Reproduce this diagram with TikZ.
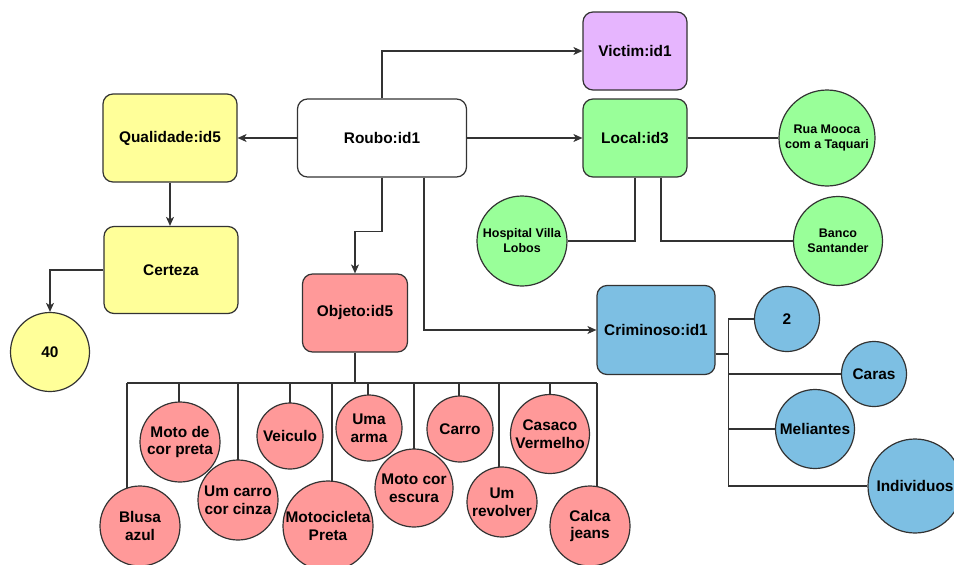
\documentclass[tikz,border=0pt]{standalone}
\usepackage{fontspec}
\setmainfont{Liberation Sans}
\usetikzlibrary{arrows.meta,backgrounds}

\definecolor{linec}{HTML}{333333}
\definecolor{fyellow}{HTML}{FFFF99}
\definecolor{fgreen}{HTML}{99FF99}
\definecolor{fred}{HTML}{FF9999}
\definecolor{fblue}{HTML}{7DBFE3}
\definecolor{fpurple}{HTML}{E6B5FE}

\tikzset{
  lbl/.style={font=\bfseries\fontsize{15.4}{17.6}\selectfont, align=center, text=black},
  lblsmall/.style={font=\bfseries\fontsize{12.5}{15}\selectfont, align=center, text=black},
  box/.style={lbl, draw=linec, line width=1.2pt, rounded corners=10pt, inner sep=0pt},
  ent/.style={lbl, circle, draw=linec, line width=1.2pt, inner sep=0pt},
  conn/.style={draw=linec, line width=1.2pt},
  arr/.style={conn, -{Stealth[length=9pt,width=8pt,inset=2.5pt]}}
}

\begin{document}
\begin{tikzpicture}[x=1pt,y=-1pt]
\useasboundingbox (0,0) rectangle (954,565);

% main entities
\node[box, fill=white, minimum width=169pt, minimum height=78pt] (roubo) at (382,138) {Roubo:id1};
\node[box, fill=fpurple, minimum width=104pt, minimum height=78pt] (victim) at (635,51) {Victim:id1};
\node[box, fill=fgreen, minimum width=104pt, minimum height=78pt] (local) at (635,138) {Local:id3};
\node[box, fill=fyellow, minimum width=134pt, minimum height=88pt] (qual) at (170,138) {Qualidade:id5};
\node[box, fill=fyellow, minimum width=134pt, minimum height=87pt] (certeza) at (171,270) {Certeza};
\node[box, fill=fred, minimum width=105pt, minimum height=78pt] (objeto) at (355,313) {Objeto:id5};
\node[box, fill=fblue, minimum width=118pt, minimum height=89pt] (crim) at (656,330) {Criminoso:id1};

% value of Certeza
\node[ent, fill=fyellow, minimum size=79pt] (n40) at (50,352) {40};

% places
\node[ent, lblsmall, fill=fgreen, minimum size=96pt] (rua) at (827,138) {Rua Mooca\\com a Taquari};
\node[ent, lblsmall, fill=fgreen, minimum size=90pt] (hosp) at (522,241) {Hospital Villa\\Lobos};
\node[ent, lblsmall, fill=fgreen, minimum size=89pt] (banco) at (838,241) {Banco\\Santander};

% criminal descriptions
\node[ent, fill=fblue, minimum size=65pt] (c2) at (787,319) {2};
\node[ent, fill=fblue, minimum size=65pt] (caras) at (874,374) {Caras};
\node[ent, fill=fblue, minimum size=79pt] (meli) at (815,429) {Meliantes};
\node[ent, fill=fblue, minimum size=94pt] (indiv) at (915,486) {Individuos};

% objects
\node[ent, fill=fred, minimum size=80pt] (blusa) at (140,526) {Blusa\\azul};
\node[ent, fill=fred, minimum size=80pt] (motopreta) at (180,442) {Moto de\\cor preta};
\node[ent, fill=fred, minimum size=80pt] (carrocinza) at (238,500) {Um carro\\cor cinza};
\node[ent, fill=fred, minimum size=66pt] (veiculo) at (290,436) {Veiculo};
\node[ent, fill=fred, minimum size=90pt] (motocicleta) at (328,526) {Motocicleta\\Preta};
\node[ent, fill=fred, minimum size=66pt] (arma) at (369,428) {Uma\\arma};
\node[ent, fill=fred, minimum size=78pt] (motoescura) at (414,488) {Moto cor\\escura};
\node[ent, fill=fred, minimum size=66pt] (carro) at (460,429) {Carro};
\node[ent, fill=fred, minimum size=70pt] (revolver) at (502,502) {Um\\revolver};
\node[ent, fill=fred, minimum size=79pt] (casaco) at (550,434) {Casaco\\Vermelho};
\node[ent, fill=fred, minimum size=80pt] (calca) at (590,526) {Calca\\jeans};

% arrows from Roubo
\draw[arr] (roubo.north) |- (victim.west);
\draw[arr] (roubo.east) -- (local.west);
\draw[arr] (roubo.west) -- (qual.east);
\draw[arr] (roubo.south) -- ++(0,54) -| (objeto.north);
\draw[arr] ([xshift=42pt]roubo.south) |- (crim.west);

% quality chain
\draw[arr] (qual.south) -- (qual.south |- certeza.north);
\draw[arr] (certeza.west) -| (n40.north);

% place links
\draw[conn] (local.east) -- (rua.west);
\draw[conn] (local.south) |- (hosp.east);
\draw[conn] ([xshift=26pt]local.south) |- (banco.west);

% criminal links
\coordinate (cbus) at ([xshift=13pt,yshift=-24pt]crim.east);
\draw[conn] ([yshift=-24pt]crim.east) -- (cbus);
\draw[conn] (cbus) |- (c2.west);
\draw[conn] (cbus) |- (caras.west);
\draw[conn] (cbus) |- (meli.west);
\draw[conn] (cbus) |- (indiv.west);

% object bus
\coordinate (d1) at (127,383);
\coordinate (d2) at (179,383);
\coordinate (d3) at (238,383);
\coordinate (d4) at (290,383);
\coordinate (d5) at (332,383);
\coordinate (d6) at (368,383);
\coordinate (d7) at (414,383);
\coordinate (d8) at (459,383);
\coordinate (d9) at (499,383);
\coordinate (d10) at (550,383);
\coordinate (d11) at (597,383);
\draw[conn] (objeto.south) -- (objeto.south |- d1);
\begin{pgfonlayer}{background}
\fill[white] (0,0) rectangle (954,565);
\draw[conn] (d1) -- (d11);
\draw[conn] (d1) -- (d1 |- blusa.center);
\draw[conn] (d2) -- (d2 |- motopreta.center);
\draw[conn] (d3) -- (d3 |- carrocinza.center);
\draw[conn] (d4) -- (d4 |- veiculo.center);
\draw[conn] (d5) -- (d5 |- motocicleta.center);
\draw[conn] (d6) -- (d6 |- arma.center);
\draw[conn] (d7) -- (d7 |- motoescura.center);
\draw[conn] (d8) -- (d8 |- carro.center);
\draw[conn] (d9) -- (d9 |- revolver.center);
\draw[conn] (d10) -- (d10 |- casaco.center);
\draw[conn] (d11) -- (d11 |- calca.center);
\end{pgfonlayer}
\end{tikzpicture}
\end{document}
